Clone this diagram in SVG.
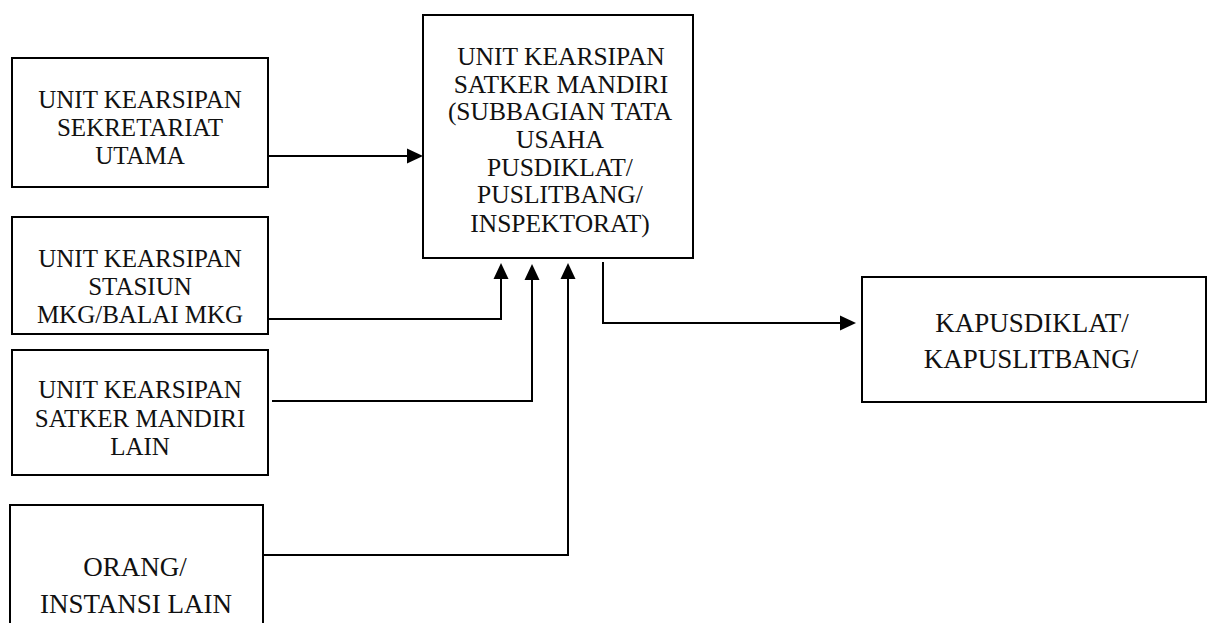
<svg xmlns="http://www.w3.org/2000/svg" width="1212" height="623" viewBox="0 0 1212 623">
  <defs>
    <style>
      .box { fill: #ffffff; stroke: #000000; stroke-width: 2; }
      .lbl { font-family: "Liberation Serif", "Times New Roman", serif; font-size: 25px; fill: #111111; text-anchor: middle; }
      .ctr { font-size: 25.5px; }
      .big { font-size: 27px; }
      .wire { fill: none; stroke: #000000; stroke-width: 2; marker-end: url(#head); }
    </style>
    <marker id="head" markerUnits="userSpaceOnUse" markerWidth="17" markerHeight="16" refX="14" refY="8" orient="auto">
      <path d="M0,0.5 L16,8 L0,15.5 Z" fill="#000000"/>
    </marker>
  </defs>

  <rect width="1212" height="623" fill="#ffffff"/>

  <!-- sources on the left -->
  <g id="sekretariat">
    <rect class="box" x="12" y="58" width="256" height="129"/>
    <text class="lbl" x="140" y="108">UNIT KEARSIPAN</text>
    <text class="lbl" x="140" y="136">SEKRETARIAT</text>
    <text class="lbl" x="140" y="164">UTAMA</text>
  </g>

  <g id="stasiun">
    <rect class="box" x="12" y="217" width="256" height="117"/>
    <text class="lbl" x="140" y="267">UNIT KEARSIPAN</text>
    <text class="lbl" x="140" y="295">STASIUN</text>
    <text class="lbl" x="140" y="323">MKG/BALAI MKG</text>
  </g>

  <g id="satker-lain">
    <rect class="box" x="12" y="350" width="256" height="125"/>
    <text class="lbl" x="140" y="398">UNIT KEARSIPAN</text>
    <text class="lbl" x="140" y="427">SATKER MANDIRI</text>
    <text class="lbl" x="140" y="455">LAIN</text>
  </g>

  <g id="instansi-lain">
    <rect class="box" x="10" y="505" width="253" height="140"/>
    <text class="lbl big" x="135" y="576">ORANG/</text>
    <text class="lbl big" x="136" y="613">INSTANSI LAIN</text>
  </g>

  <!-- central archive unit -->
  <g id="satker-mandiri">
    <rect class="box" x="423" y="15" width="270" height="243"/>
    <text class="lbl ctr" x="561" y="65">UNIT KEARSIPAN</text>
    <text class="lbl ctr" x="561" y="93">SATKER MANDIRI</text>
    <text class="lbl ctr" x="560" y="120">(SUBBAGIAN TATA</text>
    <text class="lbl ctr" x="560" y="148">USAHA</text>
    <text class="lbl ctr" x="560" y="176">PUSDIKLAT/</text>
    <text class="lbl ctr" x="560" y="203">PUSLITBANG/</text>
    <text class="lbl ctr" x="560" y="232">INSPEKTORAT)</text>
  </g>

  <!-- head of centre -->
  <g id="kapus">
    <rect class="box" x="862" y="277" width="344" height="125"/>
    <text class="lbl big" x="1032" y="332">KAPUSDIKLAT/</text>
    <text class="lbl big" x="1031" y="368">KAPUSLITBANG/</text>
  </g>

  <!-- connectors -->
  <g id="connectors">
    <path class="wire" d="M268,156 H421"/>
    <path class="wire" d="M268,319 H501 V265"/>
    <path class="wire" d="M272,401 H532 V266"/>
    <path class="wire" d="M263,555 H568 V265"/>
    <path class="wire" d="M603,262 V323 H854"/>
  </g>
</svg>
